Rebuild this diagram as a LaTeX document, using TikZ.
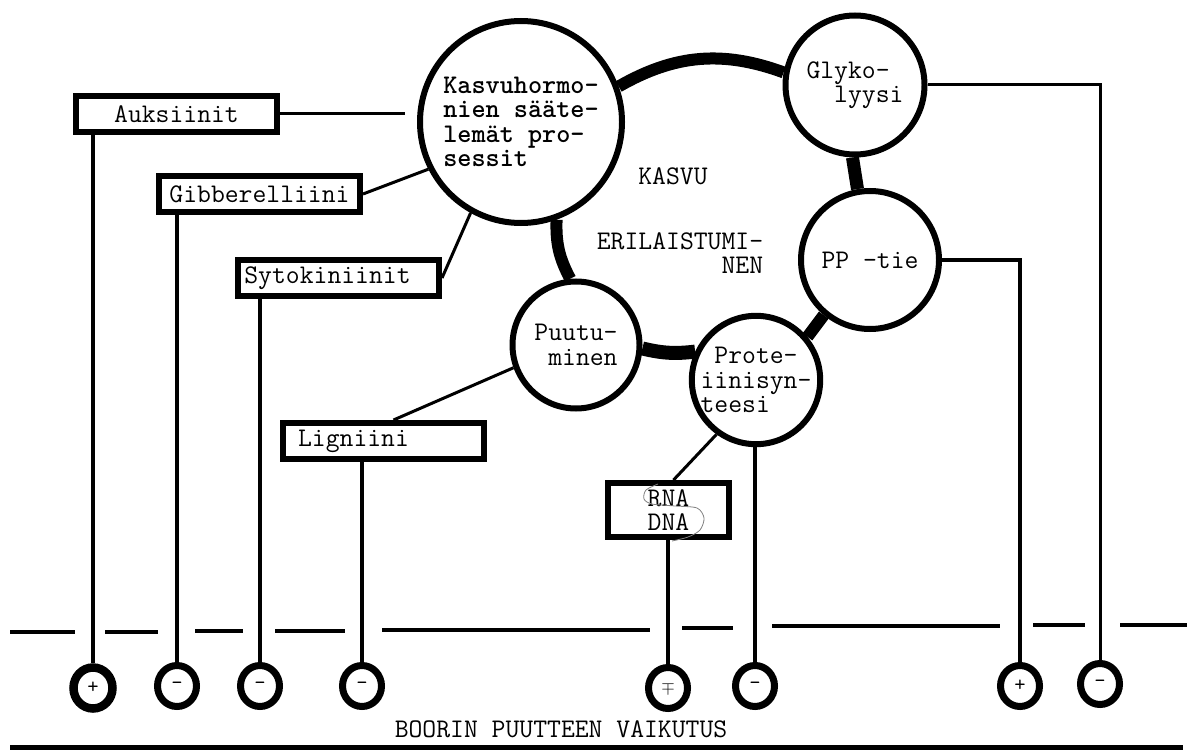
\documentclass[tikz,border=0pt]{standalone}
\usepackage{fontspec}
\usepackage{tikz}
\usetikzlibrary{shapes.geometric, positioning, calc}

\begin{document}
\begin{tikzpicture}[x=1pt, y=-1pt,
    every node/.style={font=\ttfamily\fontsize{26.9}{24.5}\selectfont},
    bubble/.style={circle, draw, line width=6pt, inner sep=0pt, align=left},
    block/.style={rectangle, draw, line width=6pt, minimum width=201pt, minimum height=36pt, inner sep=0pt},
    sign/.style={ellipse, draw, line width=7pt, minimum width=39pt, minimum height=41pt, inner sep=0pt, align=center, font=\ttfamily\fontsize{22}{12}\selectfont},
    bond/.style={line width=12pt},
    link/.style={line width=3pt},
    wire/.style={line width=4pt},
    ground/.style={line width=4pt}]
    \path[use as bounding box, fill=white] (0,0) rectangle (1196,751);

    % the ring of processes
    \node [bubble, minimum size=202pt, font=\ttfamily\bfseries\fontsize{26.9}{24.5}\selectfont] (kasvu) at (521,122) {Kasvuhormo-\\nien sääte-\\lemät pro-\\sessit};
    \node [bubble, minimum size=139pt] (glyko) at (855,85) {Glyko-\\\phantom{Gl}lyysi};
    \node [bubble, minimum size=138pt] (pptie) at (870,260) {PP -tie};
    \node [bubble, minimum size=127pt] (puut) at (576,345) {Puutu-\\\phantom{P}minen};
    \node [bubble, minimum size=126pt] (prot) at (756,380) {\phantom{i}Prote-\\iinisyn-\\teesi};
    \node (growth) at (673,176) {KASVU};
    \node [align=right] (diff) at (680,253) {ERILAISTUMI-\\NEN};

    \draw [bond] (kasvu.20) to[bend left=25] (glyko.170);
    \draw [bond, line width=13pt] (glyko.-92) -- (pptie.100);
    \draw [bond] (pptie.-130) -- (prot.40);
    \draw [bond, line width=14pt] (puut.-3) to[bend right=10] (prot.155);
    \draw [bond] (kasvu.-70) to[bend right=15] (puut.95);

    % hormones and substances
    \node [block] (auks) at (176.5,114) {\raisebox{-7pt}{Auksiinit}};
    \node [block] (gibb) at (259.5,194) {Gibberelliini};
    \node [block, minimum height=35pt] (syto) at (338.5,278) {Sytokiniinit\hspace*{22pt}};
    \node [block] (lign) at (383.5,441) {Ligniini\hspace*{60pt}};
    \node [block, minimum width=121pt, minimum height=54pt, align=center] (rna) at (668.5,510) {RNA\\DNA};
    \draw [gray, line width=0.8pt] plot[smooth] coordinates {(658,484) (646,490) (644,499) (652,504) (675,506) (697,508) (704,518) (700,530) (688,537) (672,541)};

    \draw [link, shorten >=12pt] (auks.east) -- (auks.east -| kasvu.west);
    \draw [link] (gibb.east) -- (kasvu.207);
    \draw [link] (syto.east) -- (kasvu.241);
    \draw [link] ([xshift=10pt]lign.north) -- (puut.200);
    \draw [link] ([xshift=5pt]rna.north) -- (prot.234);

    % effects of boron deficiency
    \node [sign, line width=8.5pt] (s1) at (93,688) {+};
    \node [sign] (s2) at (177,686) {-};
    \node [sign] (s3) at (260,686) {-};
    \node [sign] (s4) at (362,686) {-};
    \node [sign, font=\fontsize{18}{18}\selectfont] (s5) at (668,688) {$\mp$};
    \node [sign] (s6) at (755,686) {-};
    \node [sign] (s7) at (1020,686) {+};
    \node [sign] (s8) at (1100,684) {-};

    \draw [wire] (auks.south -| s1.north) -- (s1.north);
    \draw [wire] (gibb.south -| s2.north) -- (s2.north);
    \draw [wire] (syto.south -| s3.north) -- (s3.north);
    \draw [wire] (lign.south -| s4.north) -- (s4.north);
    \draw [wire] (rna.south -| s5.north) -- (s5.north);
    \draw [wire] (prot.south -| s6.north) -- (s6.north);
    \draw [wire] (pptie.east) -| (s7.north);
    \draw [wire, line width=3pt] (glyko.east) -| (s8.north);

    \draw [ground] (10,632) -- (75,632);
    \draw [ground] (105,631.5) -- (158,631.5);
    \draw [ground] (195,631) -- (243,631);
    \draw [ground] (275,630.5) -- (345,630.5);
    \draw [ground] (382,629.5) -- (650,629.5);
    \draw [ground] (682,628) -- (733,628);
    \draw [ground] (772,626) -- (1000,626);
    \draw [ground] (1033,625) -- (1085,625);
    \draw [ground] (1120,625) -- (1187,625);

    \node (title) at (561,729.5) {BOORIN PUUTTEEN VAIKUTUS};
    \draw [line width=5pt] (10,747) -- (1183,747);
\end{tikzpicture}
\end{document}
